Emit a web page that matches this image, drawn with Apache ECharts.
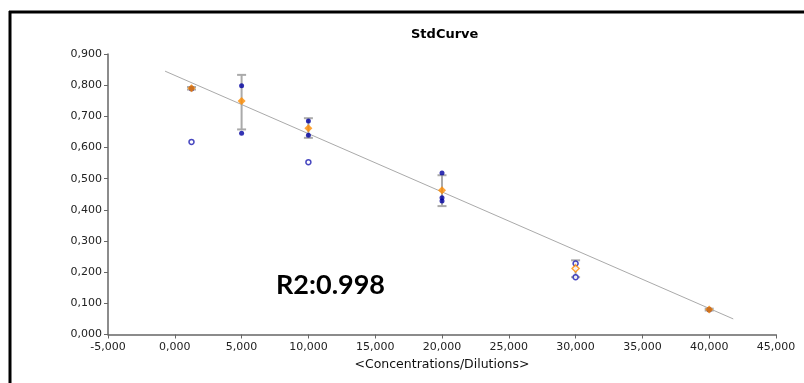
<!DOCTYPE html>
<html>

<head>
    <meta charset="UTF-8">
    <title>StdCurve</title>
    <script src="https://cdn.jsdelivr.net/npm/echarts@6/dist/echarts.min.js"></script>
    <style>
        html, body {
            margin: 0;
            padding: 0;
            background: #fff;
        }

        #chart {
            width: 804px;
            height: 383px;
        }
    </style>
</head>

<body>
    <div id="chart"></div>

    <script type="text/javascript">
        // replicates that are used (filled dark blue)
        var usedPoints = [
            [1.25, 0.791], [1.25, 0.788],
            [5, 0.798], [5, 0.646],
            [10, 0.685], [10, 0.639],
            [20, 0.518], [20, 0.439], [20, 0.428],
            [40, 0.081], [40, 0.079]
        ];
        // replicates shown hollow
        var hollowPoints = [
            [1.25, 0.618], [10, 0.553], [30, 0.228], [30, 0.184]
        ];
        // means (orange)
        var meanPoints = [
            [1.25, 0.790], [5, 0.749], [10, 0.662], [20, 0.463], [40, 0.080]
        ];
        var hollowMeans = [[30, 0.212]];
        // error bars: x, low, high
        var errorBars = [
            [1.25, 0.786, 0.794], [5, 0.658, 0.833], [10, 0.631, 0.694],
            [20, 0.412, 0.511], [30, 0.184, 0.238], [40, 0.077, 0.083]
        ];
        // regression line end points
        var trendLine = [[-0.73, 0.845], [41.8, 0.050]];

        var fmt = function (v) {
            return v.toFixed(3).replace('.', ',');
        };

        var chart = echarts.init(document.getElementById('chart'));

        var option = {
            animation: false,
            backgroundColor: '#fff',
            title: {
                text: 'StdCurve',
                left: 406,
                top: 23,
                textStyle: {
                    fontFamily: 'DejaVu Sans',
                    fontSize: 13,
                    fontWeight: 'bold',
                    color: '#000'
                }
            },
            grid: {
                left: 108,
                right: 28,
                top: 54,
                bottom: 48.5
            },
            xAxis: {
                type: 'value',
                min: -5,
                max: 45,
                interval: 5,
                name: '<Concentrations/Dilutions>',
                nameLocation: 'middle',
                nameGap: 24,
                nameTextStyle: {
                    fontFamily: 'DejaVu Sans',
                    fontSize: 12.5,
                    color: '#111'
                },
                splitLine: { show: false },
                axisLine: { lineStyle: { color: '#666', width: 1.5 } },
                axisTick: { length: 4, lineStyle: { color: '#666' } },
                axisLabel: {
                    formatter: fmt,
                    fontFamily: 'DejaVu Sans',
                    fontSize: 11,
                    color: '#222',
                    margin: 7
                }
            },
            yAxis: {
                type: 'value',
                min: 0,
                max: 0.9,
                interval: 0.1,
                splitLine: { show: false },
                axisLine: { show: true, onZero: false, lineStyle: { color: '#666', width: 1.5 } },
                axisTick: { show: true, length: 4, lineStyle: { color: '#666' } },
                axisLabel: {
                    formatter: fmt,
                    fontFamily: 'DejaVu Sans',
                    fontSize: 11,
                    color: '#222',
                    margin: 6
                }
            },
            graphic: [
                {
                    type: 'line',
                    shape: { x1: 9, y1: 12, x2: 804, y2: 12 },
                    style: { stroke: '#000', lineWidth: 3 }
                },
                {
                    type: 'line',
                    shape: { x1: 10, y1: 11, x2: 10, y2: 383 },
                    style: { stroke: '#000', lineWidth: 3 }
                },
                {
                    type: 'text',
                    left: 276,
                    top: 272,
                    style: {
                        text: 'R2:0.998',
                        fontFamily: 'Lato',
                        fontWeight: 'bold',
                        fontSize: 27,
                        fill: '#000'
                    }
                }
            ],
            series: [
                {
                    type: 'custom',
                    data: errorBars,
                    z: 1,
                    renderItem: function (params, api) {
                        var top = api.coord([api.value(0), api.value(2)]);
                        var bot = api.coord([api.value(0), api.value(1)]);
                        var hw = 4.5;
                        var st = { stroke: '#aaa', lineWidth: 2 };
                        return {
                            type: 'group',
                            children: [
                                { type: 'line', shape: { x1: top[0], y1: top[1], x2: bot[0], y2: bot[1] }, style: st },
                                { type: 'line', shape: { x1: top[0] - hw, y1: top[1], x2: top[0] + hw, y2: top[1] }, style: st },
                                { type: 'line', shape: { x1: bot[0] - hw, y1: bot[1], x2: bot[0] + hw, y2: bot[1] }, style: st }
                            ]
                        };
                    }
                },
                {
                    type: 'line',
                    data: trendLine,
                    symbol: 'none',
                    z: 2,
                    lineStyle: { color: '#aaa', width: 1 }
                },
                {
                    type: 'scatter',
                    data: usedPoints,
                    symbol: 'circle',
                    symbolSize: 5,
                    z: 3,
                    itemStyle: { color: '#0000a0' }
                },
                {
                    type: 'scatter',
                    data: hollowPoints,
                    symbol: 'circle',
                    symbolSize: 5,
                    z: 3,
                    itemStyle: { color: '#fff', borderColor: '#1a1ab0', borderWidth: 1.5 }
                },
                {
                    type: 'scatter',
                    data: meanPoints,
                    symbol: 'diamond',
                    symbolSize: 8,
                    z: 4,
                    itemStyle: { color: '#ff8c00' }
                },
                {
                    type: 'scatter',
                    data: hollowMeans,
                    symbol: 'diamond',
                    symbolSize: 7,
                    z: 4,
                    itemStyle: { color: '#fff', borderColor: '#ff8c00', borderWidth: 1.5 }
                }
            ]
        };

        chart.setOption(option);
    </script>

</body>

</html>
